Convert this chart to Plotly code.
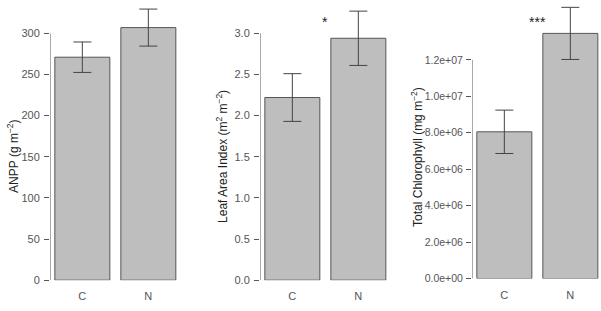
import plotly.graph_objects as go

W, H = 601, 311

categories = ["C", "N"]
bar_pos = [0.7, 1.9]

anpp_mean = [271, 307]
anpp_se = [18.5, 22.5]
lai_mean = [2.22, 2.94]
lai_se = [0.29, 0.33]
chl_mean = [8.05e6, 13.45e6]
chl_se = [1.19e6, 1.43e6]

anpp_ticks = [0, 50, 100, 150, 200, 250, 300]
anpp_ticktext = ["0", "50", "100", "150", "200", "250", "300"]
lai_ticks = [0.0, 0.5, 1.0, 1.5, 2.0, 2.5, 3.0]
lai_ticktext = ["0.0", "0.5", "1.0", "1.5", "2.0", "2.5", "3.0"]
chl_ticks = [0, 2e6, 4e6, 6e6, 8e6, 1.0e7, 1.2e7]
chl_ticktext = ["0.0e+00", "2.0e+06", "4.0e+06", "6.0e+06", "8.0e+06", "1.0e+07", "1.2e+07"]

sig_labels = ["", "*", "***"]
sig_y = [None, 3.14, 14.1e6]

titles = ["ANPP (g m<sup>−2</sup>)",
          "Leaf Area Index (m<sup>2</sup> m<sup>−2</sup>)",
          "Total Chlorophyll (mg m<sup>−2</sup>)"]

FONT = "Liberation Sans, Arial, sans-serif"
TICKC = "#555555"
BARFILL = "#BFBEBF"
EDGE = "#555555"

panels = [
    dict(mean=anpp_mean, se=anpp_se, ticks=anpp_ticks, tt=anpp_ticktext,
         axpx=50, rpx=181, y0px=285.7, ppu=(285.7 - 34) / 300, tpx=13, fs=11, sd=2),
    dict(mean=lai_mean, se=lai_se, ticks=lai_ticks, tt=lai_ticktext,
         axpx=260, rpx=391, y0px=285.7, ppu=(285.7 - 34) / 3.0, tpx=222, fs=11, sd=2),
    dict(mean=chl_mean, se=chl_se, ticks=chl_ticks, tt=chl_ticktext,
         axpx=472, rpx=601, y0px=284, ppu=(284 - 61) / 1.2e7, tpx=417, fs=10.5, sd=1),
]

XPPU = 55.0
X0 = 0.112

fig = go.Figure()
shapes = []
annotations = []
for i, p in enumerate(panels):
    n = i + 1
    xa = "x" if n == 1 else f"x{n}"
    ya = "y" if n == 1 else f"y{n}"
    fig.add_trace(go.Bar(
        x=bar_pos, y=p["mean"], width=1.0,
        marker=dict(color=BARFILL, line=dict(color=EDGE, width=1)),
        error_y=dict(type="data", array=p["se"], visible=True,
                     color="#444444", thickness=1, width=9),
        xaxis=xa, yaxis=ya, showlegend=False, hoverinfo="skip"))
    xr1 = X0 + (p["rpx"] - p["axpx"]) / XPPU
    ytop = p["y0px"] / p["ppu"]
    xdom = [p["axpx"] / W, min(p["rpx"] / W, 1.0)]
    ydom = [(H - p["y0px"]) / H, 1.0]
    xkey = "xaxis" if n == 1 else f"xaxis{n}"
    ykey = "yaxis" if n == 1 else f"yaxis{n}"
    fig.layout[xkey] = dict(domain=xdom, range=[X0, xr1], anchor=ya,
                            tickvals=bar_pos, ticktext=categories,
                            ticks="outside", ticklen=6, tickcolor="rgba(0,0,0,0)",
                            showline=False, showgrid=False, zeroline=False,
                            tickfont=dict(family=FONT, size=11, color=TICKC))
    fig.layout[ykey] = dict(domain=ydom, range=[0, ytop], anchor=xa,
                            tickvals=p["ticks"], ticktext=p["tt"],
                            ticks="outside", ticklen=5, tickcolor=TICKC, tickwidth=1,
                            ticklabelstandoff=p["sd"],
                            showline=False, showgrid=False, zeroline=False,
                            tickfont=dict(family=FONT, size=p["fs"], color=TICKC))
    shapes.append(dict(type="line", xref=xa, yref=ya, x0=X0, x1=X0,
                       y0=p["ticks"][0], y1=p["ticks"][-1],
                       line=dict(color=TICKC, width=1)))
    annotations.append(dict(text=titles[i], textangle=-90, xref="paper", yref="paper",
                            x=p["tpx"] / W, y=(H - 160) / H, showarrow=False,
                            xanchor="center", yanchor="middle",
                            font=dict(family=FONT, size=12, color="#222222")))
    if sig_labels[i]:
        annotations.append(dict(text=sig_labels[i], xref=xa, yref=ya,
                                x=(bar_pos[0] + bar_pos[1]) / 2, y=sig_y[i],
                                showarrow=False, xanchor="center", yanchor="middle",
                                font=dict(family=FONT, size=14, color="#222222")))

fig.update_layout(width=W, height=H, autosize=False,
                  margin=dict(l=0, r=0, t=0, b=0),
                  paper_bgcolor="white", plot_bgcolor="white",
                  shapes=shapes, annotations=annotations)

fig.write_html("out.html")
